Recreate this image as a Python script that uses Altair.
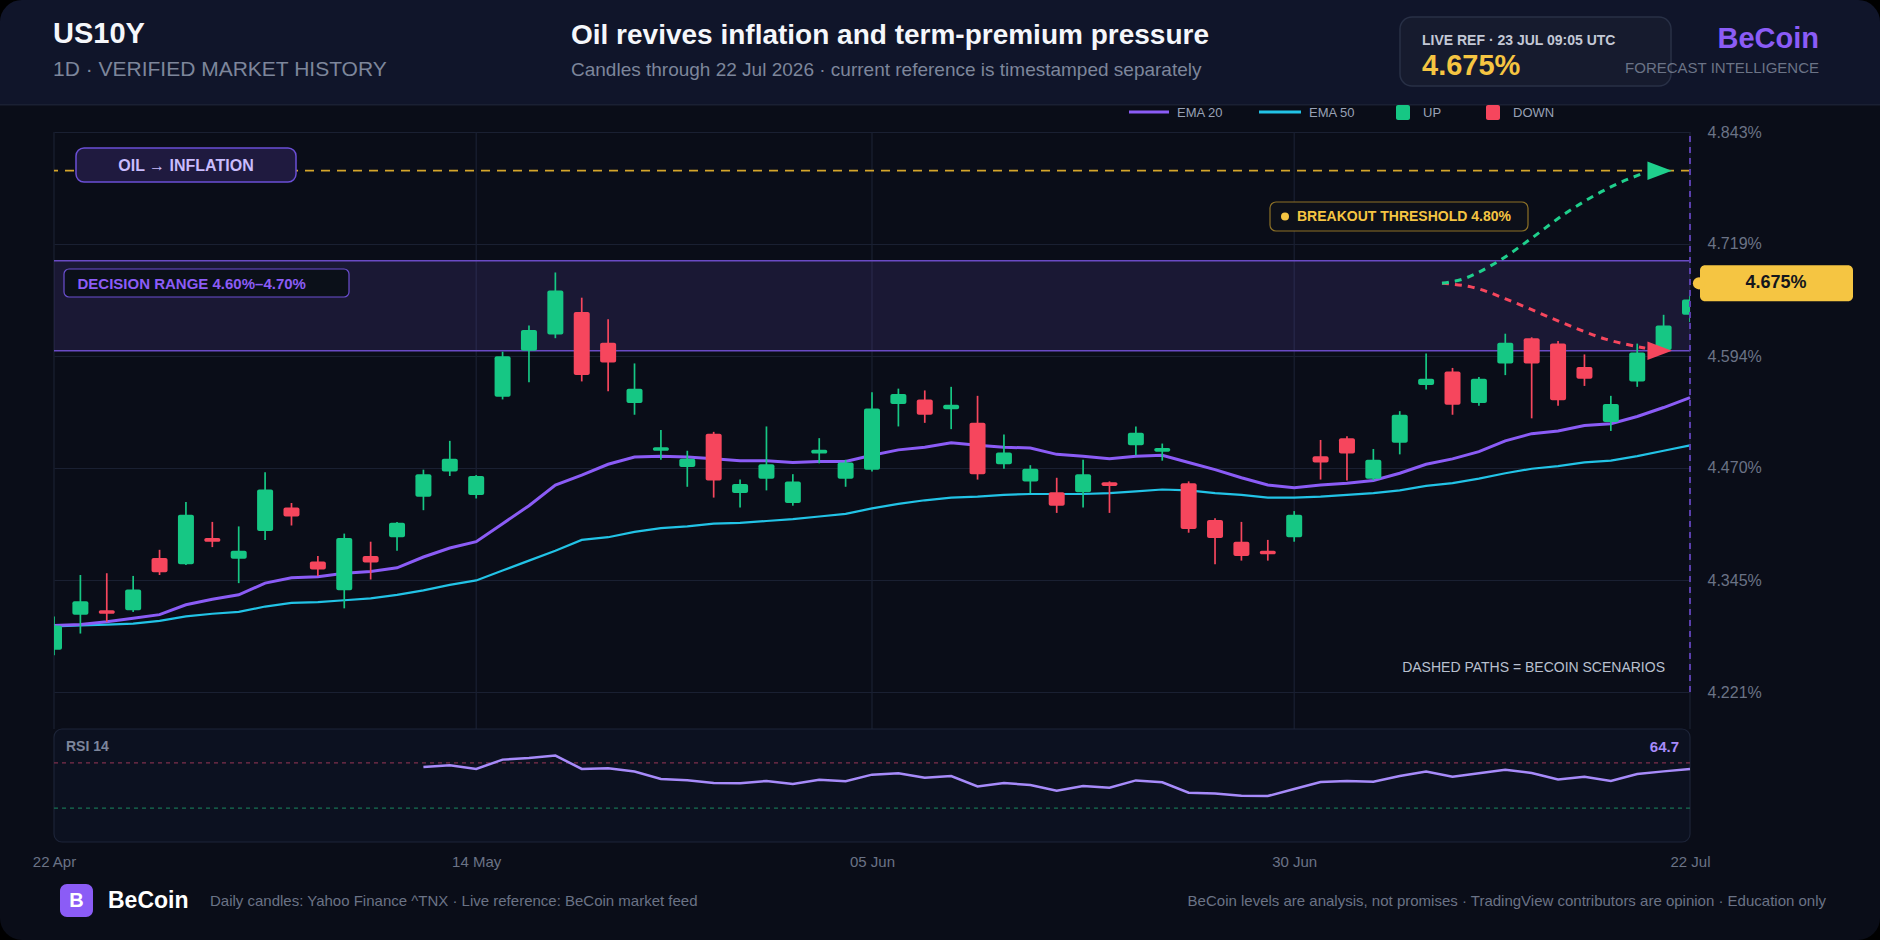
import altair as alt
import pandas as pd

FONT = "Liberation Sans"

# ---------------------------------------------------------------- sessions
holidays = ["2026-05-25", "2026-06-19", "2026-07-03"]
sessions = [d.strftime("%Y-%m-%d") for d in pd.bdate_range("2026-04-22", "2026-07-22")
            if d.strftime("%Y-%m-%d") not in holidays]

tick_dates = ["2026-04-22", "2026-05-14", "2026-06-05", "2026-06-30", "2026-07-22"]
tick_labels = ["22 Apr", "14 May", "05 Jun", "30 Jun", "22 Jul"]

# ---------------------------------------------------------------- US10Y daily OHLC (%)
open_ = [4.268, 4.307, 4.312, 4.312, 4.370, 4.363, 4.392, 4.369, 4.400, 4.426,
         4.366, 4.334, 4.372, 4.393, 4.438, 4.466, 4.440, 4.549, 4.600, 4.618,
         4.643, 4.609, 4.542, 4.489, 4.471, 4.508, 4.442, 4.458, 4.431, 4.486,
         4.458, 4.468, 4.541, 4.546, 4.535, 4.520, 4.474, 4.455, 4.443, 4.443,
         4.454, 4.495, 4.488, 4.453, 4.412, 4.388, 4.378, 4.393, 4.483, 4.503,
         4.458, 4.498, 4.562, 4.577, 4.542, 4.586, 4.614, 4.608, 4.582, 4.521,
         4.566, 4.601, 4.640]
high = [4.305, 4.351, 4.353, 4.350, 4.379, 4.432, 4.410, 4.405, 4.465, 4.431,
        4.372, 4.397, 4.388, 4.410, 4.468, 4.500, 4.462, 4.599, 4.628, 4.687,
        4.659, 4.635, 4.586, 4.512, 4.489, 4.510, 4.457, 4.516, 4.463, 4.503,
        4.479, 4.554, 4.558, 4.556, 4.560, 4.550, 4.507, 4.473, 4.459, 4.479,
        4.455, 4.516, 4.497, 4.455, 4.414, 4.410, 4.390, 4.422, 4.501, 4.505,
        4.491, 4.533, 4.597, 4.581, 4.571, 4.619, 4.615, 4.611, 4.596, 4.550,
        4.608, 4.640, 4.662]
low = [4.262, 4.286, 4.299, 4.310, 4.351, 4.362, 4.382, 4.342, 4.390, 4.406,
       4.350, 4.314, 4.346, 4.378, 4.423, 4.461, 4.436, 4.546, 4.565, 4.614,
       4.566, 4.555, 4.529, 4.479, 4.449, 4.437, 4.426, 4.445, 4.428, 4.475,
       4.449, 4.466, 4.516, 4.520, 4.513, 4.457, 4.469, 4.442, 4.420, 4.426,
       4.420, 4.484, 4.478, 4.398, 4.363, 4.367, 4.367, 4.388, 4.457, 4.456,
       4.456, 4.485, 4.557, 4.529, 4.539, 4.573, 4.525, 4.539, 4.561, 4.511,
       4.560, 4.599, 4.632]
close = [4.295, 4.322, 4.308, 4.335, 4.354, 4.418, 4.388, 4.378, 4.446, 4.416,
         4.357, 4.392, 4.365, 4.409, 4.463, 4.480, 4.461, 4.594, 4.623, 4.667,
         4.573, 4.587, 4.558, 4.493, 4.480, 4.456, 4.452, 4.474, 4.455, 4.490,
         4.476, 4.536, 4.552, 4.529, 4.540, 4.463, 4.487, 4.469, 4.428, 4.463,
         4.450, 4.509, 4.492, 4.402, 4.392, 4.372, 4.374, 4.418, 4.476, 4.486,
         4.479, 4.529, 4.569, 4.540, 4.569, 4.609, 4.586, 4.545, 4.569, 4.541,
         4.598, 4.628, 4.657]

ema20 = [4.295, 4.296, 4.299, 4.303, 4.307, 4.318, 4.324, 4.329, 4.342, 4.348,
         4.349, 4.353, 4.355, 4.359, 4.371, 4.381, 4.388, 4.408, 4.428, 4.451,
         4.462, 4.474, 4.482, 4.483, 4.482, 4.480, 4.478, 4.478, 4.476, 4.477,
         4.477, 4.484, 4.490, 4.493, 4.498, 4.495, 4.493, 4.492, 4.485, 4.483,
         4.480, 4.483, 4.484, 4.476, 4.468, 4.459, 4.451, 4.448, 4.451, 4.453,
         4.456, 4.464, 4.474, 4.480, 4.488, 4.500, 4.508, 4.511, 4.517, 4.519,
         4.527, 4.537, 4.548]
ema50 = [4.294, 4.295, 4.296, 4.297, 4.300, 4.305, 4.308, 4.310, 4.316, 4.320,
         4.321, 4.323, 4.325, 4.329, 4.334, 4.340, 4.345, 4.356, 4.367, 4.378,
         4.390, 4.393, 4.399, 4.403, 4.405, 4.408, 4.409, 4.411, 4.413, 4.416,
         4.419, 4.425, 4.430, 4.434, 4.437, 4.438, 4.440, 4.441, 4.441, 4.441,
         4.442, 4.444, 4.446, 4.445, 4.442, 4.440, 4.437, 4.437, 4.438, 4.440,
         4.442, 4.445, 4.450, 4.453, 4.458, 4.464, 4.469, 4.472, 4.476, 4.478,
         4.483, 4.489, 4.495]

# RSI(14) starts once 14 sessions are available
rsi_start = 14
rsi14 = [66.4, 67.9, 64.7, 72.9, 74.4, 76.5, 64.7, 65.2, 62.3, 55.8,
         54.6, 52.2, 52.0, 54.0, 51.3, 55.1, 53.7, 59.6, 60.8, 56.9,
         58.4, 49.2, 52.2, 50.4, 45.3, 49.5, 48.0, 54.5, 52.8, 43.6,
         43.0, 41.0, 40.7, 46.9, 53.1, 54.0, 53.4, 58.4, 62.3, 57.8,
         60.8, 64.0, 61.1, 55.4, 57.8, 54.0, 60.2, 62.5, 64.7]
rsi_levels = [70, 30]

# levels and scenarios
y_ticks = [4.221, 4.345, 4.470, 4.594, 4.719, 4.843]
y_domain = [4.18, 4.843]
decision_lo, decision_hi = 4.60, 4.70
breakout = 4.80
live_ref = 4.675
scen_up_i = [52.6, 53.2, 54.6, 55.9, 57.3, 59.0, 60.3]
scen_up_v = [4.675, 4.678, 4.697, 4.723, 4.753, 4.782, 4.798]
scen_dn_i = [52.6, 53.7, 55.4, 57.1, 58.8, 60.3]
scen_dn_v = [4.675, 4.671, 4.653, 4.632, 4.613, 4.603]
arrow_i = 60.85

N = len(sessions)
assert N == 63 and all(len(a) == N for a in (open_, high, low, close, ema20, ema50))
assert len(rsi14) == N - rsi_start
tick_idx = [sessions.index(d) for d in tick_dates]

# ---------------------------------------------------------------- layout
W, H = 1636, 597          # main price pane
OX, OY = 54, 132          # pane origin on the 1880x940 canvas
UP, DOWN = "#16c784", "#f6465d"
PURPLE, CYAN, GOLD = "#8b5cf6", "#22c3e6", "#f5c542"
GRID, MUTED = "#1a2032", "#6b7386"


def px(x):
    return x - OX


def py(y):
    return y - OY


one = pd.DataFrame({"k": [0]})


def text(s, x, y, size, color, weight="normal", align="left", baseline="alphabetic"):
    return alt.Chart(one).mark_text(
        text=s, font=FONT, fontSize=size, color=color, fontWeight=weight,
        align=align, baseline=baseline,
    ).encode(x=alt.value(px(x)), y=alt.value(py(y)))


def box(x0, y0, x1, y1, fill, stroke=None, radius=0, sw=1.0):
    kw = dict(fill=fill, cornerRadius=radius)
    if stroke:
        kw.update(stroke=stroke, strokeWidth=sw)
    return alt.Chart(one).mark_rect(**kw).encode(
        x=alt.value(px(x0)), x2=alt.value(px(x1)),
        y=alt.value(py(y0)), y2=alt.value(py(y1)))


def hline(x0, x1, y, color, sw):
    return alt.Chart(one).mark_rule(color=color, strokeWidth=sw).encode(
        x=alt.value(px(x0)), x2=alt.value(px(x1)), y=alt.value(py(y)))


label_expr = " : ".join(f"datum.value == {i} ? '{l}'" for i, l in zip(tick_idx, tick_labels)) + " : ''"

xscale = alt.Scale(domain=[0, N - 1], nice=False, zero=False, padding=0)
xaxis = alt.Axis(values=tick_idx, labelExpr=label_expr, grid=False, ticks=False, domain=False,
                 offset=113, labelPadding=12, labelFlush=False, labelOverlap=False,
                 labelFontSize=15, labelColor=MUTED, labelFont=FONT, title=None)
yscale = alt.Scale(domain=y_domain, nice=False, zero=False, padding=0)
yaxis = alt.Axis(orient="right", values=y_ticks, labelExpr="format(datum.value, '.3f') + '%'",
                 grid=True, gridColor=GRID, gridWidth=1.2, ticks=False, domain=False,
                 labelPadding=17, labelFontSize=16, labelColor=MUTED, labelFont=FONT,
                 labelFlush=False, labelOverlap=False, title=None)


def X(f="i"):
    return alt.X(f"{f}:Q", scale=xscale, axis=xaxis)


def Y(f):
    return alt.Y(f"{f}:Q", scale=yscale, axis=yaxis)


# ---------------------------------------------------------------- price pane
candles = pd.DataFrame({"i": range(N), "date": sessions, "open": open_, "high": high,
                        "low": low, "close": close, "ema20": ema20, "ema50": ema50})
updown = alt.condition("datum.close >= datum.open", alt.value(UP), alt.value(DOWN))

vgrid = alt.Chart(pd.DataFrame({"i": tick_idx})).mark_rule(color=GRID, strokeWidth=1.2).encode(
    x=X(), y=alt.value(0), y2=alt.value(H))

band_df = pd.DataFrame({"x0": [0], "x1": [N - 1], "lo": [decision_lo], "hi": [decision_hi]})
band = alt.Chart(band_df).mark_rect(color="#7c5ce6", opacity=0.14).encode(
    x=X("x0"), x2="x1", y=Y("lo"), y2="hi")
band_edges = alt.Chart(pd.DataFrame({"v": [decision_lo, decision_hi]})).mark_rule(
    color="#6a4bc4", strokeWidth=1.5).encode(y=Y("v"))
threshold = alt.Chart(pd.DataFrame({"v": [breakout]})).mark_rule(
    color="#d4a52b", strokeDash=[9, 7], strokeWidth=1.8).encode(y=Y("v"))

ema50_line = alt.Chart(candles).mark_line(color=CYAN, strokeWidth=2.2).encode(x=X(), y=Y("ema50"))
ema20_line = alt.Chart(candles).mark_line(color=PURPLE, strokeWidth=3).encode(x=X(), y=Y("ema20"))

wicks = alt.Chart(candles).mark_rule(strokeWidth=1.7, clip=True).encode(
    x=X(), y=Y("low"), y2="high", color=updown)
bodies = alt.Chart(candles).mark_bar(width=16, cornerRadius=2, clip=True).encode(
    x=X(), y=Y("open"), y2="close", color=updown)

up_df = pd.DataFrame({"i": scen_up_i, "v": scen_up_v})
dn_df = pd.DataFrame({"i": scen_dn_i, "v": scen_dn_v})
scen_dn = alt.Chart(dn_df).mark_line(color="#f6465d", strokeDash=[7, 6], strokeWidth=3,
                                     interpolate="monotone").encode(x=X(), y=Y("v"))
scen_up = alt.Chart(up_df).mark_line(color="#1fcf8c", strokeDash=[7, 6], strokeWidth=3,
                                     interpolate="monotone").encode(x=X(), y=Y("v"))
ARROW = "M-1,-0.75L1,0L-1,0.75Z"
arrow_dn = alt.Chart(pd.DataFrame({"i": [arrow_i], "v": [decision_lo]})).mark_point(
    shape=ARROW, size=600, filled=True, opacity=1, color="#f6465d").encode(x=X(), y=Y("v"))
arrow_up = alt.Chart(pd.DataFrame({"i": [arrow_i], "v": [breakout]})).mark_point(
    shape=ARROW, size=600, filled=True, opacity=1, color="#1fcf8c").encode(x=X(), y=Y("v"))

edge_df = pd.DataFrame({"i": [N - 1], "lo": [y_ticks[0]], "hi": [y_ticks[-1]]})
edge = alt.Chart(edge_df).mark_rule(color="#5b3fae", strokeDash=[6, 5], strokeWidth=2).encode(
    x=X(), y=Y("lo"), y2="hi")

live_df = pd.DataFrame({"v": [live_ref]})
tag_rect = alt.Chart(live_df).mark_rect(color=GOLD, cornerRadius=5, yOffset=-18, y2Offset=18).encode(
    x=alt.value(px(1700)), x2=alt.value(px(1853)), y=Y("v"), y2="v")
tag_dot = alt.Chart(live_df).mark_circle(color=GOLD, size=150, opacity=1).encode(
    x=alt.value(px(1699)), y=Y("v"))
tag_txt = alt.Chart(live_df).transform_calculate(
    lbl="format(datum.v, '.3f') + '%'").mark_text(
    font=FONT, fontSize=18, fontWeight="bold", color="#14161d", baseline="middle").encode(
    x=alt.value(px(1776)), y=Y("v"), text="lbl:N")

price = alt.layer(vgrid, band, band_edges, threshold, ema50_line, ema20_line, wicks, bodies,
                  scen_dn, scen_up, arrow_dn, arrow_up, edge, tag_rect, tag_dot, tag_txt)

# ---------------------------------------------------------------- RSI pane
ry = alt.Scale(domain=[0, 100], range=[py(842), py(729)], padding=0)


def RY(f):
    return alt.Y(f"{f}:Q", scale=ry, axis=None)


rsi_df = pd.DataFrame({"i": range(rsi_start, N), "rsi": rsi14})
panel = alt.Chart(pd.DataFrame({"x0": [0], "x1": [N - 1], "lo": [0], "hi": [100]})).mark_rect(
    fill="#0c1120", stroke="#1d2438", strokeWidth=1.2, cornerRadius=8).encode(
    x=X("x0"), x2="x1", y=RY("lo"), y2="hi")
ob = alt.Chart(pd.DataFrame({"v": [rsi_levels[0]]})).mark_rule(
    color="#7c2f4b", strokeDash=[4, 4], strokeWidth=1.2).encode(y=RY("v"))
os_ = alt.Chart(pd.DataFrame({"v": [rsi_levels[1]]})).mark_rule(
    color="#177052", strokeDash=[4, 4], strokeWidth=1.2).encode(y=RY("v"))
rsi_line = alt.Chart(rsi_df).mark_line(color="#a78bfa", strokeWidth=2.5).encode(x=X(), y=RY("rsi"))
rsi = alt.layer(panel, ob, os_, rsi_line)

# ---------------------------------------------------------------- header, legend, notes
back = [
    box(0, 0, 1880, 104, "#10152a"),
    box(0, 104, 1880, 105.5, "#1a2033"),
    box(1400, 17, 1671, 86, "#161b2e", stroke="#283046", radius=12, sw=1.5),
]

front = [
    text("US10Y", 53, 43, 29, "#f5f7fb", "bold"),
    text("1D · VERIFIED MARKET HISTORY", 53, 76, 21, "#7d869b"),
    text("Oil revives inflation and term-premium pressure", 571, 44, 28, "#f5f7fb", "bold"),
    text("Candles through 22 Jul 2026 · current reference is timestamped separately",
         571, 76, 19, "#7d869b"),
    text("LIVE REF · 23 JUL 09:05 UTC", 1422, 45, 14, "#c3c8d6", "bold"),
    text(f"{live_ref:.3f}%", 1422, 75, 29, GOLD, "bold"),
    text("BeCoin", 1819, 48, 29, PURPLE, "bold", align="right"),
    text("FORECAST INTELLIGENCE", 1819, 73, 15, MUTED, align="right"),
    # legend
    hline(1129, 1169, 112, PURPLE, 3),
    text("EMA 20", 1177, 113, 13, "#98a1b5", baseline="middle"),
    hline(1259, 1301, 112, CYAN, 3),
    text("EMA 50", 1309, 113, 13, "#98a1b5", baseline="middle"),
    box(1396, 105, 1410, 120, UP, radius=2),
    text("UP", 1423, 113, 13, "#98a1b5", baseline="middle"),
    box(1486, 105, 1500, 120, DOWN, radius=2),
    text("DOWN", 1513, 113, 13, "#98a1b5", baseline="middle"),
    # annotations
    box(76, 148, 296, 182, "#1f1a3f", stroke="#6b4fd6", radius=8, sw=1.5),
    text("OIL → INFLATION", 186, 166, 16, "#c9bcfd", "bold", align="center", baseline="middle"),
    box(64, 269, 349, 297, "#0b1019", stroke="#6b4fd0", radius=5, sw=1.2),
    text(f"DECISION RANGE {decision_lo:.2f}%–{decision_hi:.2f}%", 77.5, 283.5, 15, PURPLE,
         "bold", baseline="middle"),
    box(1270, 202, 1528, 231, "#0d1019", stroke="#8d7127", radius=6, sw=1.2),
    alt.Chart(one).mark_circle(color=GOLD, size=64, opacity=1).encode(
        x=alt.value(px(1285)), y=alt.value(py(216.5))),
    text(f"BREAKOUT THRESHOLD {breakout:.2f}%", 1297, 217, 14, GOLD, "bold", baseline="middle"),
    text("DASHED PATHS = BECOIN SCENARIOS", 1665, 668, 14, "#b9c0cf", align="right",
         baseline="middle"),
    text("RSI 14", 66, 747, 14, "#7d869b", "bold", baseline="middle"),
    text(f"{rsi14[-1]:.1f}", 1679, 747, 15, "#a78bfa", "bold", align="right", baseline="middle"),
    # footer
    box(60, 884, 93, 917, PURPLE, radius=7),
    text("B", 76.5, 901, 20, "#ffffff", "bold", align="center", baseline="middle"),
    text("BeCoin", 108, 901, 23, "#ffffff", "bold", baseline="middle"),
    text("Daily candles: Yahoo Finance ^TNX · Live reference: BeCoin market feed",
         210, 901, 15, MUTED, baseline="middle"),
    text("BeCoin levels are analysis, not promises · TradingView contributors are opinion · Education only",
         1826, 901, 15, MUTED, align="right", baseline="middle"),
    # rounded card edge
    alt.Chart(one).mark_rect(fill="#000000", fillOpacity=0, stroke="#000000", strokeWidth=40,
                             cornerRadius=42).encode(
        x=alt.value(px(-20)), x2=alt.value(px(1900)), y=alt.value(py(-20)), y2=alt.value(py(960))),
]

chart = alt.layer(*back, price, rsi, *front).resolve_scale(y="independent").properties(
    width=W, height=H,
    padding={"left": OX, "top": OY, "right": 1880 - OX - W, "bottom": 940 - OY - H},
    autosize=alt.AutoSizeParams(type="none"),
).configure(background="#0a0d18", font=FONT).configure_view(strokeWidth=0)

chart.save("out.html", embed_options={"renderer": "svg", "actions": False})
